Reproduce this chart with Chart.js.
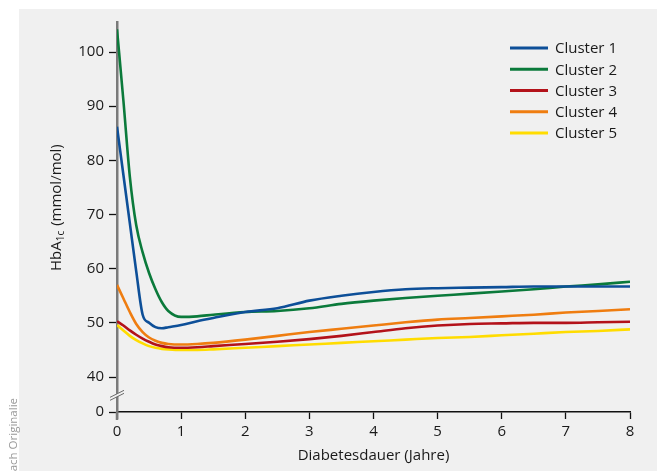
<!DOCTYPE html>
<html>
<head>
<meta charset="utf-8">
<script src="https://cdn.jsdelivr.net/npm/chart.js@4/dist/chart.umd.min.js"></script>
<style>
  html, body { margin: 0; padding: 0; background: #fff; }
  canvas { display: block; }
</style>
</head>
<body>
<canvas id="hba1c" width="657" height="471"></canvas>
<script>
// years since diagnosis (shared by all clusters)
const years = [0, 0.1, 0.2, 0.3, 0.4, 0.5, 0.6, 0.7, 0.8, 1, 1.25, 1.5, 2, 2.5, 3, 3.5, 4, 4.5, 5, 5.5, 6, 6.5, 7, 7.5, 8];

const cluster1 = [86.2, 77.3, 68.4, 59.5, 51.5, 50.0, 49.2, 49.0, 49.2, 49.6, 50.3, 50.9, 52.0, 52.7, 54.1, 55.0, 55.7, 56.2, 56.4, 56.5, 56.6, 56.7, 56.7, 56.7, 56.7];
const cluster2 = [104.2, 91.0, 77.0, 68.0, 63.0, 59.2, 56.2, 53.8, 52.2, 51.1, 51.2, 51.5, 52.0, 52.2, 52.7, 53.5, 54.1, 54.6, 55.0, 55.4, 55.8, 56.2, 56.7, 57.1, 57.6];
const cluster3 = [50.3, 49.5, 48.6, 47.8, 47.1, 46.5, 46.0, 45.7, 45.5, 45.4, 45.5, 45.7, 46.1, 46.5, 47.0, 47.6, 48.3, 49.0, 49.5, 49.8, 49.9, 50.0, 50.0, 50.1, 50.2];
const cluster4 = [57.0, 54.5, 52.0, 49.8, 48.3, 47.3, 46.7, 46.3, 46.1, 46.0, 46.1, 46.3, 46.9, 47.6, 48.3, 48.9, 49.5, 50.1, 50.6, 50.9, 51.2, 51.5, 51.9, 52.2, 52.5];
const cluster5 = [49.6, 48.6, 47.6, 46.8, 46.2, 45.7, 45.4, 45.2, 45.1, 45.0, 45.0, 45.1, 45.4, 45.7, 46.0, 46.3, 46.6, 46.9, 47.2, 47.4, 47.7, 48.0, 48.3, 48.5, 48.8];

const clusterNames = ["Cluster 1", "Cluster 2", "Cluster 3", "Cluster 4", "Cluster 5"];
const clusterColors = ["#0d4f98", "#0b7a3b", "#b3121a", "#ef7d10", "#ffdc00"];

// y axis is broken: the bottom of the axis stands for 0
const yTicks = [40, 50, 60, 70, 80, 90, 100];
const yFloor = 33.54;
const yTop = 105.54;

const xTitle = "Diabetesdauer (Jahre)";
const sideNote = "Nach Originalie";

const FONT = "'Open Sans', sans-serif";
const panelBg = "#f0f0f0";

const series = [cluster1, cluster2, cluster3, cluster4, cluster5];

const decorations = {
  id: "decorations",
  beforeDraw(chart) {
    const c = chart.ctx;
    c.save();
    c.fillStyle = "#fff";
    c.fillRect(0, 0, chart.width, chart.height);
    c.fillStyle = panelBg;
    c.fillRect(19, 9, chart.width - 19, chart.height - 9);
    c.restore();
  },
  afterDraw(chart) {
    const c = chart.ctx;
    const area = chart.chartArea;
    const ys = chart.scales.y;
    c.save();

    // y axis runs a bit below the x axis
    c.strokeStyle = "#7a7a7a";
    c.lineWidth = 2.5;
    c.beginPath();
    c.moveTo(area.left, area.bottom);
    c.lineTo(area.left, area.bottom + 8);
    c.stroke();

    // axis break marks
    const by = ys.getPixelForValue(36.8);
    c.fillStyle = panelBg;
    c.beginPath();
    c.moveTo(area.left - 7, by + 3);
    c.lineTo(area.left + 7, by - 4);
    c.lineTo(area.left + 7, by - 1);
    c.lineTo(area.left - 7, by + 6);
    c.closePath();
    c.fill();
    c.strokeStyle = "#6a6a6a";
    c.lineWidth = 1;
    [0, 3].forEach(d => {
      c.beginPath();
      c.moveTo(area.left - 7, by + 3 + d);
      c.lineTo(area.left + 7, by - 4 + d);
      c.stroke();
    });

    // y title with subscript
    c.fillStyle = "#1a1a1a";
    c.translate(61, 271);
    c.rotate(-Math.PI / 2);
    c.textBaseline = "alphabetic";
    c.textAlign = "left";
    c.font = "15px " + FONT;
    c.fillText("HbA", 0, 0);
    let w = c.measureText("HbA").width;
    c.font = "10px " + FONT;
    c.fillText("1c", w, 3);
    w += c.measureText("1c").width + 1;
    c.font = "15px " + FONT;
    c.fillText(" (mmol/mol)", w, 0);
    c.setTransform(1, 0, 0, 1, 0, 0);

    // x title
    c.textAlign = "center";
    c.fillText(xTitle, (area.left + area.right) / 2, 460);

    // side note, clipped at the bottom
    c.fillStyle = "#999";
    c.font = "11.5px " + FONT;
    c.translate(17, 398);
    c.rotate(-Math.PI / 2);
    c.textAlign = "right";
    c.fillText(sideNote, 0, 0);
    c.setTransform(1, 0, 0, 1, 0, 0);

    // legend
    c.font = "15px " + FONT;
    c.textAlign = "left";
    c.textBaseline = "middle";
    chart.data.datasets.forEach((ds, i) => {
      const ly = 48 + i * 21.25;
      c.strokeStyle = ds.borderColor;
      c.lineWidth = 3;
      c.beginPath();
      c.moveTo(510, ly);
      c.lineTo(548, ly);
      c.stroke();
      c.fillStyle = "#1a1a1a";
      c.fillText(ds.label, 555, ly + 1);
    });
    c.restore();
  }
};

new Chart(document.getElementById("hba1c"), {
  type: "line",
  data: {
    datasets: series.map((vals, i) => ({
      label: clusterNames[i],
      data: years.map((x, j) => ({ x: x, y: vals[j] })),
      borderColor: clusterColors[i],
      backgroundColor: clusterColors[i],
      borderWidth: 2.6,
      pointRadius: 0,
      cubicInterpolationMode: "monotone",
      fill: false,
    })),
  },
  options: {
    responsive: false,
    animation: false,
    layout: { padding: { left: 0, right: 27, top: 22, bottom: 0 } },
    plugins: {
      legend: { display: false },
      tooltip: { enabled: false },
    },
    scales: {
      x: {
        type: "linear",
        min: 0,
        max: 8,
        afterFit: s => { s.height = 59; },
        ticks: {
          stepSize: 1,
          color: "#1a1a1a",
          padding: 4,
          font: { family: FONT, size: 15 },
        },
        grid: { drawOnChartArea: false, tickLength: 7, tickColor: "#111", tickWidth: 1.3 },
        border: { color: "#111", width: 1.5 },
      },
      y: {
        type: "linear",
        min: yFloor,
        max: yTop,
        afterFit: s => { s.width = 117; },
        afterBuildTicks: s => {
          s.ticks = [{ value: yFloor }].concat(yTicks.map(v => ({ value: v })));
        },
        ticks: {
          color: "#1a1a1a",
          padding: 5,
          font: { family: FONT, size: 15 },
          callback: v => (v === yFloor ? "0" : v),
        },
        grid: { drawOnChartArea: false, tickLength: 8, tickColor: "#111", tickWidth: 1.3 },
        border: { color: "#7a7a7a", width: 2.5 },
      },
    },
  },
  plugins: [decorations],
});
</script>
</body>
</html>
